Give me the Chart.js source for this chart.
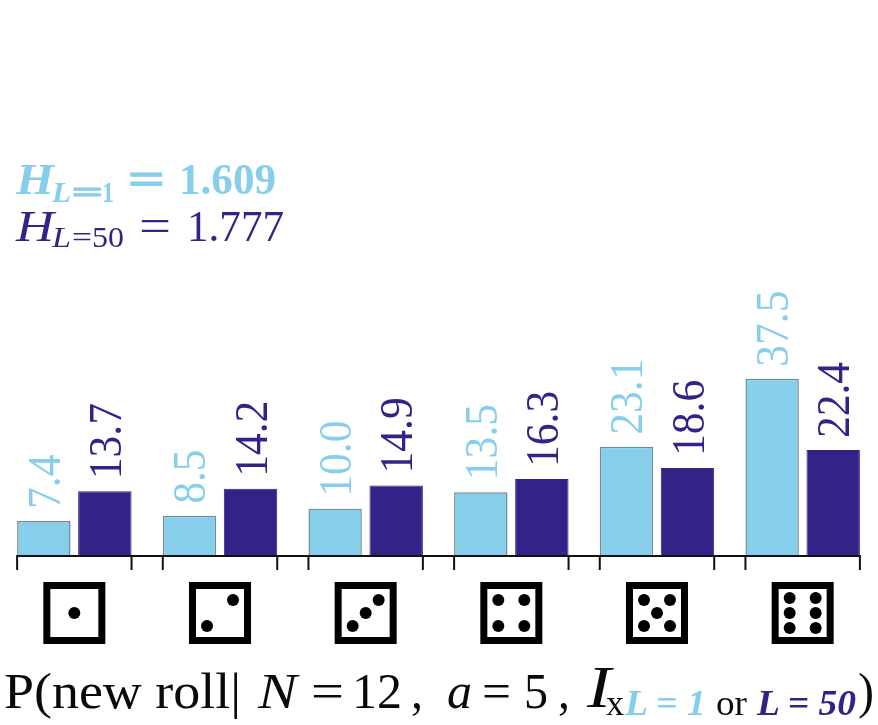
<!DOCTYPE html>
<html>
<head>
<meta charset="utf-8">
<script src="https://cdn.jsdelivr.net/npm/chart.js@4"></script>
<style>
  html, body { margin: 0; background: #fff; }
  .wrap { position: relative; width: 878px; height: 725px; overflow: hidden; font-family: "Liberation Serif", serif; }
  canvas { position: absolute; left: 0; top: 0; }
  .chunk { position: absolute; white-space: pre; line-height: 1; transform-origin: left center; }
</style>
</head>
<body>
<div class="wrap" id="wrap">
  <canvas id="chart" width="878" height="725"></canvas>
</div>
<script>
const faces = [1, 2, 3, 4, 5, 6];
const lowLength = [7.4, 8.5, 10.0, 13.5, 23.1, 37.5];
const highLength = [13.7, 14.2, 14.9, 16.3, 18.6, 22.4];

const lightBlue = '#87ceeb';
const darkBlue = '#332288';
const ink = '#0a0a0a';

// pip layout per face, as offsets from the die centre in units of one pip step
const pipLayouts = {
  1: [[0, 0]],
  2: [[-1, 1], [1, -1]],
  3: [[-1, 1], [0, 0], [1, -1]],
  4: [[-1, -1], [1, -1], [-1, 1], [1, 1]],
  5: [[-1, -1], [1, -1], [0, 0], [-1, 1], [1, 1]],
  6: [[-1, -1], [1, -1], [-1, 0], [1, 0], [-1, 1], [1, 1]]
};

// values written rotated above each bar
const valueLabels = {
  id: 'valueLabels',
  afterDatasetsDraw(chart) {
    const ctx = chart.ctx;
    ctx.save();
    ctx.font = '44px "Liberation Serif", serif';
    ctx.textAlign = 'left';
    ctx.textBaseline = 'alphabetic';
    chart.data.datasets.forEach((ds, d) => {
      ctx.fillStyle = ds.backgroundColor;
      chart.getDatasetMeta(d).data.forEach((bar, i) => {
        ctx.save();
        ctx.translate(bar.x + 16, bar.y - 12);
        ctx.rotate(-Math.PI / 2);
        ctx.scale(0.99, 1.06);
        ctx.fillText(ds.data[i].toFixed(1), 0, 0);
        ctx.restore();
      });
    });
    ctx.restore();
  }
};

// baseline, bracket ticks under each pair of bars, and a die under each group
const diceAxis = {
  id: 'diceAxis',
  afterDatasetsDraw(chart) {
    const ctx = chart.ctx;
    const x = chart.scales.x;
    const axisY = chart.scales.y.getPixelForValue(0);
    const low = chart.getDatasetMeta(0).data;
    const high = chart.getDatasetMeta(1).data;
    const edges = faces.map((f, i) => [low[i].x - low[i].width / 2, high[i].x + high[i].width / 2]);

    ctx.save();
    ctx.strokeStyle = '#111';
    ctx.lineWidth = 2;
    ctx.beginPath();
    ctx.moveTo(edges[0][0] - 1, axisY);
    ctx.lineTo(edges[5][1] + 1, axisY);
    edges.forEach(([a, b]) => {
      ctx.moveTo(a, axisY);
      ctx.lineTo(a, axisY + 14);
      ctx.moveTo(b, axisY);
      ctx.lineTo(b, axisY + 14);
    });
    ctx.stroke();

    const dieY = 613;
    faces.forEach((f, i) => {
      const cx = x.getPixelForValue(i);
      ctx.strokeStyle = '#000';
      ctx.lineWidth = 7;
      ctx.strokeRect(cx - 27.5, dieY - 27.5, 55, 55);
      ctx.fillStyle = '#000';
      const stepY = f === 6 ? 15 : 13;
      pipLayouts[f].forEach(([px, py]) => {
        ctx.beginPath();
        ctx.arc(cx + px * 13, dieY + py * stepY, 6, 0, Math.PI * 2);
        ctx.fill();
      });
    });
    ctx.restore();
  }
};

new Chart(document.getElementById('chart'), {
  type: 'bar',
  data: {
    labels: faces,
    datasets: [
      { data: lowLength, backgroundColor: lightBlue, borderColor: '#6c8c9e', borderWidth: 1.5 },
      { data: highLength, backgroundColor: darkBlue, borderColor: darkBlue, borderWidth: 1 }
    ]
  },
  options: {
    responsive: false,
    animation: false,
    categoryPercentage: 0.838,
    barPercentage: 0.875,
    layout: { padding: { left: 1.5, right: 2.5, top: 0, bottom: 169 } },
    plugins: { legend: { display: false }, tooltip: { enabled: false } },
    scales: {
      x: { display: false, grid: { display: false } },
      y: { display: false, min: 0, max: 117.6, grid: { display: false } }
    }
  },
  plugins: [valueLabels, diceAxis]
});

// one run of text, squeezed or stretched to span x0..x1 on the given baseline
function place(text, x0, x1, baseline, size, color, css) {
  const el = document.createElement('div');
  el.className = 'chunk';
  el.textContent = text;
  el.style.cssText = `left:${x0}px;top:${baseline - 0.8375 * size}px;font-size:${size}px;color:${color};${css || ''}`;
  document.getElementById('wrap').appendChild(el);
  el.style.transform = `scaleX(${(x1 - x0) / el.getBoundingClientRect().width})`;
}

const italic = 'font-style:italic;';
const bold = 'font-weight:bold;';
const boldItalic = italic + bold;
const heavy = bold + '-webkit-text-stroke:1.2px currentColor;';

// entropy readouts
place('H', 16, 54, 195, 44, lightBlue, boldItalic);
place('L', 52, 71, 202, 29, lightBlue, boldItalic);
place('=', 72, 103, 202, 29, lightBlue, heavy);
place('1', 102, 114, 202, 29, lightBlue, bold);
place('=', 128, 165, 195, 46, lightBlue, heavy);
place('1.609', 179, 276, 195, 44, lightBlue, bold);

place('H', 16, 54, 242, 44, darkBlue, italic);
place('L', 52, 71, 247, 29, darkBlue, italic);
place('=', 72, 92, 247, 29, darkBlue);
place('50', 92, 124, 247, 29, darkBlue);
place('=', 139, 171, 242, 46, darkBlue);
place('1.777', 187, 284, 242, 44, darkBlue);

// caption under the dice
place('P(new roll|', 4, 241, 708, 50, ink);
place('N', 258, 297, 708, 50, ink, italic);
place('=', 311, 344, 708, 50, ink);
place('12', 352, 402, 708, 50, ink);
place(',', 411, 423, 708, 50, ink);
place('a', 447, 472, 708, 50, ink, italic);
place('=', 482, 511, 708, 50, ink);
place('5', 524, 548, 708, 50, ink);
place(',', 558, 570, 708, 50, ink);
place('I', 587, 611, 707, 60, ink, italic);
place('x', 606, 624, 715, 35, ink);
place('L = 1', 625, 706, 715, 35, lightBlue, boldItalic);
place('or', 716, 747, 715, 35, ink);
place('L = 50', 757, 856, 715, 35, darkBlue, boldItalic);
place(')', 858, 874, 708, 50, ink);
</script>
</body>
</html>
